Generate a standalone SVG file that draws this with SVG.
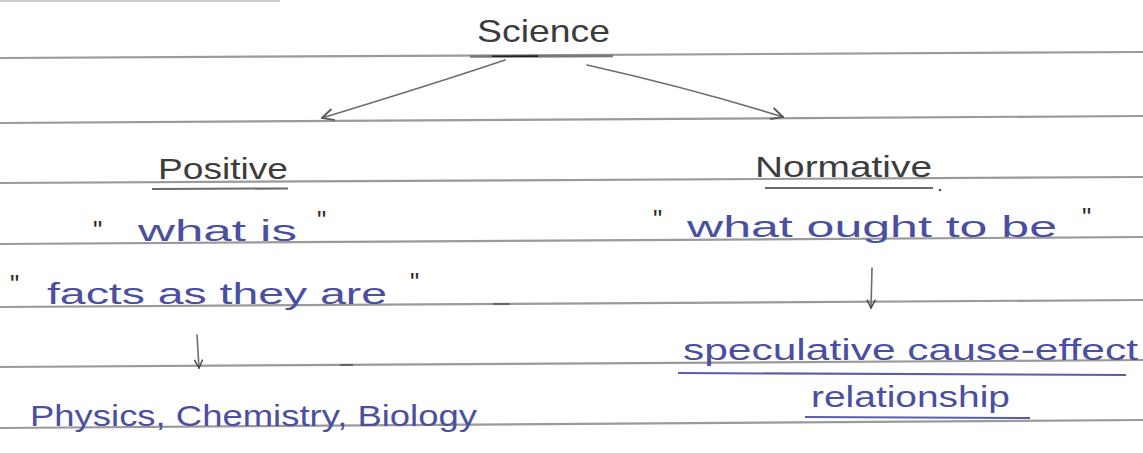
<svg xmlns="http://www.w3.org/2000/svg" width="1143" height="453" viewBox="0 0 1143 453">
  <style>
    .rule { stroke: #9a9a9a; stroke-width: 2.2; fill: none; }
    .pencil { font-family: "Liberation Sans", "DejaVu Sans", sans-serif; fill: #3c3c3c; }
    .ink { font-family: "Liberation Sans", "DejaVu Sans", sans-serif; fill: #4b4fa0; }
    .quote { font-family: "Liberation Sans", "DejaVu Sans", sans-serif; fill: #2a2a2a; font-size: 26px; }
    .conn { stroke: #6e6e6e; stroke-width: 1.6; fill: none; stroke-linecap: round; }
    .uline-p { stroke: #6a6a6a; stroke-width: 2; fill: none; }
    .uline-i { stroke: #5a5ea8; stroke-width: 2; fill: none; }
  </style>
  <defs>
    <marker id="vhead" viewBox="0 0 12 12" refX="11" refY="6" markerWidth="14" markerHeight="14" markerUnits="userSpaceOnUse" orient="auto">
      <path d="M1,1 L11,6 L1,11" fill="none" stroke="#5a5a5a" stroke-width="1.6"/>
    </marker>
    <marker id="dhead" viewBox="0 0 12 12" refX="11" refY="6" markerWidth="10" markerHeight="10" markerUnits="userSpaceOnUse" orient="auto">
      <path d="M1,1 L11,6 L1,11" fill="none" stroke="#4a4a4a" stroke-width="1.8"/>
    </marker>
  </defs>
  <rect x="0" y="0" width="1143" height="453" fill="#ffffff"/>

  <g id="ruled-lines">
    <line class="rule" x1="0" y1="1" x2="280" y2="1" stroke-opacity="0.5"/>
    <line class="rule" x1="0" y1="58" x2="1143" y2="52"/>
    <line class="rule" x1="0" y1="123" x2="1143" y2="116"/>
    <line class="rule" x1="0" y1="183" x2="1143" y2="177"/>
    <line class="rule" x1="0" y1="244" x2="1143" y2="237"/>
    <line class="rule" x1="0" y1="307" x2="1143" y2="300"/>
    <line class="rule" x1="0" y1="367" x2="1143" y2="360"/>
    <line class="rule" x1="0" y1="428" x2="1143" y2="420"/>
  </g>

  <g id="science">
    <text class="pencil" x="477" y="42" font-size="32" textLength="133" lengthAdjust="spacingAndGlyphs">Science</text>
    <line x1="470" y1="56.5" x2="613" y2="56" stroke="#777" stroke-width="2.6"/>
    <line x1="492" y1="56.3" x2="538" y2="56.1" stroke="#222" stroke-width="1.6"/>
  </g>

  <g id="positive">
    <text class="pencil" x="158" y="179" font-size="30" textLength="130" lengthAdjust="spacingAndGlyphs">Positive</text>
    <line class="uline-p" x1="152" y1="189" x2="288" y2="188.5"/>
  </g>

  <g id="normative">
    <text class="pencil" x="755" y="177" font-size="30" textLength="177" lengthAdjust="spacingAndGlyphs">Normative</text>
    <line class="uline-p" x1="765" y1="188" x2="933" y2="188"/>
    <circle cx="940" cy="190" r="1.3" fill="#555"/>
  </g>

  <g id="positive-what-is">
    <text class="quote" x="93" y="239">"</text>
    <text class="ink" x="138" y="241" font-size="30" textLength="159" lengthAdjust="spacingAndGlyphs">what is</text>
    <text class="quote" x="317" y="229">"</text>
  </g>

  <g id="positive-facts">
    <text class="quote" x="10" y="293">"</text>
    <text class="ink" x="47" y="304" font-size="30" textLength="340" lengthAdjust="spacingAndGlyphs">facts as they are</text>
    <text class="quote" x="410" y="291">"</text>
  </g>

  <g id="normative-what-ought">
    <text class="quote" x="653" y="228">"</text>
    <text class="ink" x="687" y="237" font-size="30" textLength="370" lengthAdjust="spacingAndGlyphs">what ought to be</text>
    <text class="quote" x="1082" y="226">"</text>
  </g>

  <g id="positive-examples">
    <text class="ink" x="30" y="426" font-size="30" textLength="447" lengthAdjust="spacingAndGlyphs">Physics, Chemistry, Biology</text>
  </g>

  <g id="normative-result">
    <text class="ink" x="683" y="360" font-size="30" textLength="455" lengthAdjust="spacingAndGlyphs">speculative cause-effect</text>
    <line class="uline-i" x1="678" y1="373" x2="1126" y2="375"/>
    <text class="ink" x="811" y="407" font-size="30" textLength="199" lengthAdjust="spacingAndGlyphs">relationship</text>
    <line class="uline-i" x1="805" y1="417" x2="1030" y2="418"/>
  </g>

  <g id="stray-marks">
    <line x1="493" y1="304" x2="510" y2="304" stroke="#555" stroke-width="1.5"/>
    <line x1="340" y1="365" x2="353" y2="365" stroke="#555" stroke-width="1.5"/>
  </g>

  <g id="connectors">
    <path class="conn" d="M505,60 Q440,82 322,118" marker-end="url(#vhead)"/>
    <path class="conn" d="M587,65 Q690,88 783,117" marker-end="url(#vhead)"/>
    <path class="conn" d="M197,335 L199,368" marker-end="url(#dhead)"/>
    <path class="conn" d="M872,268 L871,308" marker-end="url(#dhead)"/>
  </g>
</svg>
